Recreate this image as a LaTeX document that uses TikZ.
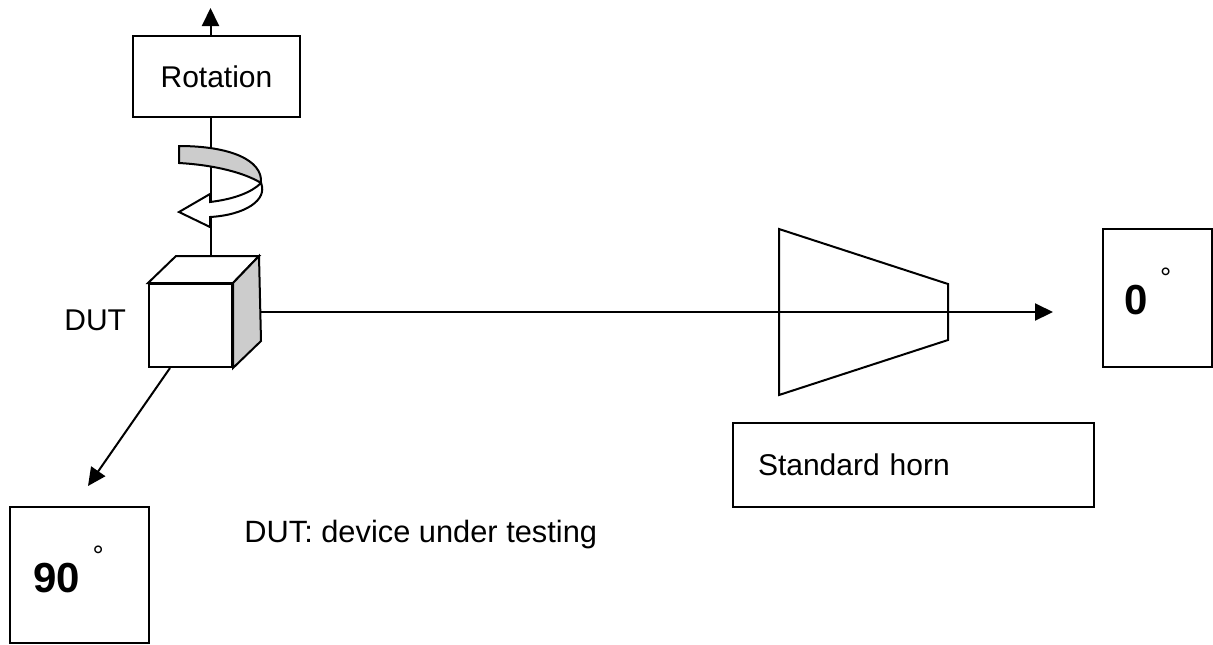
\documentclass[tikz,border=0pt]{standalone}
\usepackage{fontspec}
\setmainfont{Liberation Sans}
\usetikzlibrary{positioning}
\usetikzlibrary{calc}
\usetikzlibrary{arrows.meta}

\newcommand{\degmark}{\hspace{6.2pt}\raisebox{13.5pt}{\fontsize{14}{14}\normalfont\selectfont °}}

\tikzset{
  frame/.style={draw,line width=0.8pt,fill=white,inner sep=0pt},
  axis/.style={line width=1pt,-{Triangle[length=9pt,width=8.5pt]}},
  txt/.style={anchor=base west,inner sep=0pt},
  bigdeg/.style={txt,font=\bfseries\fontsize{21}{24}\selectfont}
}

\begin{document}
\begin{tikzpicture}[x=0.5pt,y=-0.5pt,font=\fontsize{15}{18}\selectfont]
            \useasboundingbox (0,0) rectangle (1213,644);
            % device and its faces
            \node[draw,fill=white,line width=1pt,minimum width=41.5pt,minimum height=41.5pt,inner sep=0pt] (dut) at (190.5,325.5) {};
            \draw[line width=1pt,fill=white] (dut.north west) -- ++(28,-27) coordinate (backnw) -- ++(83,0) coordinate (backne) -- (dut.north east) -- cycle;
            \draw[line width=1pt,fill=gray!40] (dut.north east) -- (backne) -- ($(dut.south east)+(28,-27)$) -- (dut.south east) -- cycle;
            \coordinate (top) at ($(dut.north)+(20,-27)$);
            \coordinate (side) at ($(dut.east)+(28,-13.5)$);
            \coordinate (foot) at ($(dut.south)+(-20.5,0)$);
            % boxes
            \node[frame,minimum width=83.5pt,minimum height=40.5pt] (rot) at (216.5,76.5) {Rotation};
            \node[frame,minimum width=180.5pt,minimum height=42pt,text width=155.5pt,inner xsep=12.5pt,align=left] (hornbox) at (913.5,465) {Standard horn};
            \node[frame,minimum width=54.5pt,minimum height=69pt] (zero) at (1157.5,298) {};
            \node[frame,minimum width=69.5pt,minimum height=68pt] (ninety) at (79.5,575) {};
            \node[bigdeg] (zerotxt) at (1124,314) {0\degmark};
            \node[bigdeg] (ninetytxt) at (33,592) {90\degmark};
            \node[txt] (dutname) at (64,330) {DUT};
            \node[txt,font=\fontsize{15.4}{18}\selectfont] (legend) at (244,542) {DUT: device under testing};
            % axes
            \coordinate (up) at (210.5,8);
            \coordinate (tip0) at (1053,312);
            \coordinate (tip90) at (88,486);
            \draw[line width=1pt] (top) -- (top |- rot.south);
            \draw[axis] (top |- rot.north) -- (up);
            \draw[axis] (side) -- (tip0);
            \draw[axis] (foot) -- (tip90);
            % horn
            \draw[line width=1pt] (779,229) -- (948,284) -- (948,340) -- (779,395) -- cycle;
            % rotation sign
            \draw[line width=1pt,fill=gray!40] (179,146) .. controls (230,146) and (263,160) .. (261,183)
                .. controls (245,173) and (215,165) .. (179,163) -- cycle;
            \draw[line width=1pt,fill=white] (261,183) .. controls (268,200) and (245,215) .. (210,217)
                -- (210,227) -- (179,212) -- (210,194) -- (210,202)
                .. controls (235,199) and (252,192) .. (261,183) -- cycle;
        \end{tikzpicture}
\end{document}
